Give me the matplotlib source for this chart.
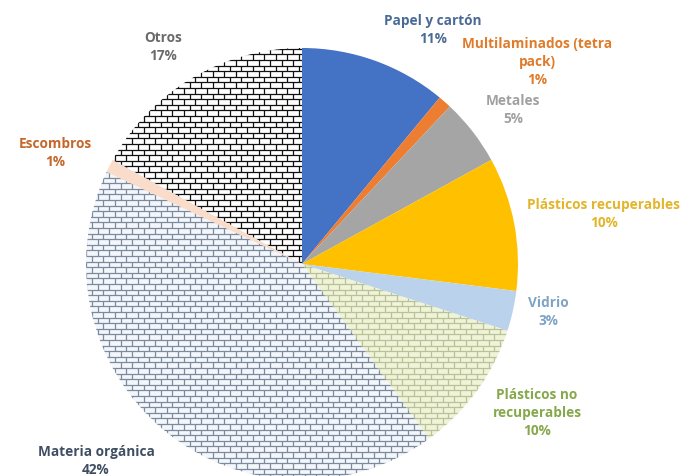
import matplotlib.pyplot as plt
import numpy as np
from matplotlib.collections import LineCollection

labels = ["Papel y cartón", "Multilaminados (tetra\npack)", "Metales",
          "Plásticos recuperables", "Vidrio", "Plásticos no\nrecuperables",
          "Materia orgánica", "Escombros", "Otros"]
values = [11, 1, 5, 10, 3, 10, 42, 1, 17]

fills = ["#4472c4", "#ed7d31", "#a5a5a5", "#ffc000", "#bad2ec",
         "#eff4d8", "#f3f6fb", "#fadccb", "#ffffff"]
text_colors = ["#4a6a96", "#e07b2a", "#a0a0a0", "#e3b52a", "#7fa3c6",
               "#86a84a", "#3f4e63", "#c5672a", "#6a6a6a"]
# brick hatch colour per slice (None = plain)
brick_colors = [None, None, None, None, None, "#b9c09a", "#7d8a9c", None, "#111111"]

# label centres in pixel coords (x, y from top)
label_pos = [(433, 30), (537, 62), (513, 110), (604, 214), (548, 312),
             (537, 413), (96, 461), (55, 153), (163, 47)]

W, H = 685, 477
cx, cy, r = 302, 265, 216

fig = plt.figure(figsize=(W / 100, H / 100), dpi=100)
ax = fig.add_axes([0, 0, 1, 1])

wedges, _ = ax.pie(values, colors=fills, startangle=90, counterclock=False,
                   radius=r, center=(cx, H - cy), frame=True,
                   wedgeprops=dict(linewidth=0))
ax.set_xlim(0, W)
ax.set_ylim(0, H)
ax.axis("off")


def bricks(wedge, color, bh=5.6, bw=11.5, lw=0.9):
    segs = []
    y0, y1 = H - cy - r, H - cy + r
    x0, x1 = cx - r, cx + r
    rows = np.arange(y0, y1, bh)
    for i, y in enumerate(rows):
        segs.append([(x0, y), (x1, y)])
        off = 0 if i % 2 == 0 else bw / 2
        for x in np.arange(x0 + off, x1, bw):
            segs.append([(x, y), (x, y + bh)])
    lc = LineCollection(segs, colors=color, linewidths=lw)
    ax.add_collection(lc)
    lc.set_clip_path(wedge)


for wg, bc in zip(wedges, brick_colors):
    if bc is not None:
        bricks(wg, bc)

for lab, v, tc, (lx, ly) in zip(labels, values, text_colors, label_pos):
    ax.text(lx, H - ly, f"{lab}\n{v}%", ha="center", va="center", color=tc,
            fontsize=9.8, fontweight="bold", family="Open Sans", linespacing=1.4)

fig.savefig("out.png", dpi=100)
